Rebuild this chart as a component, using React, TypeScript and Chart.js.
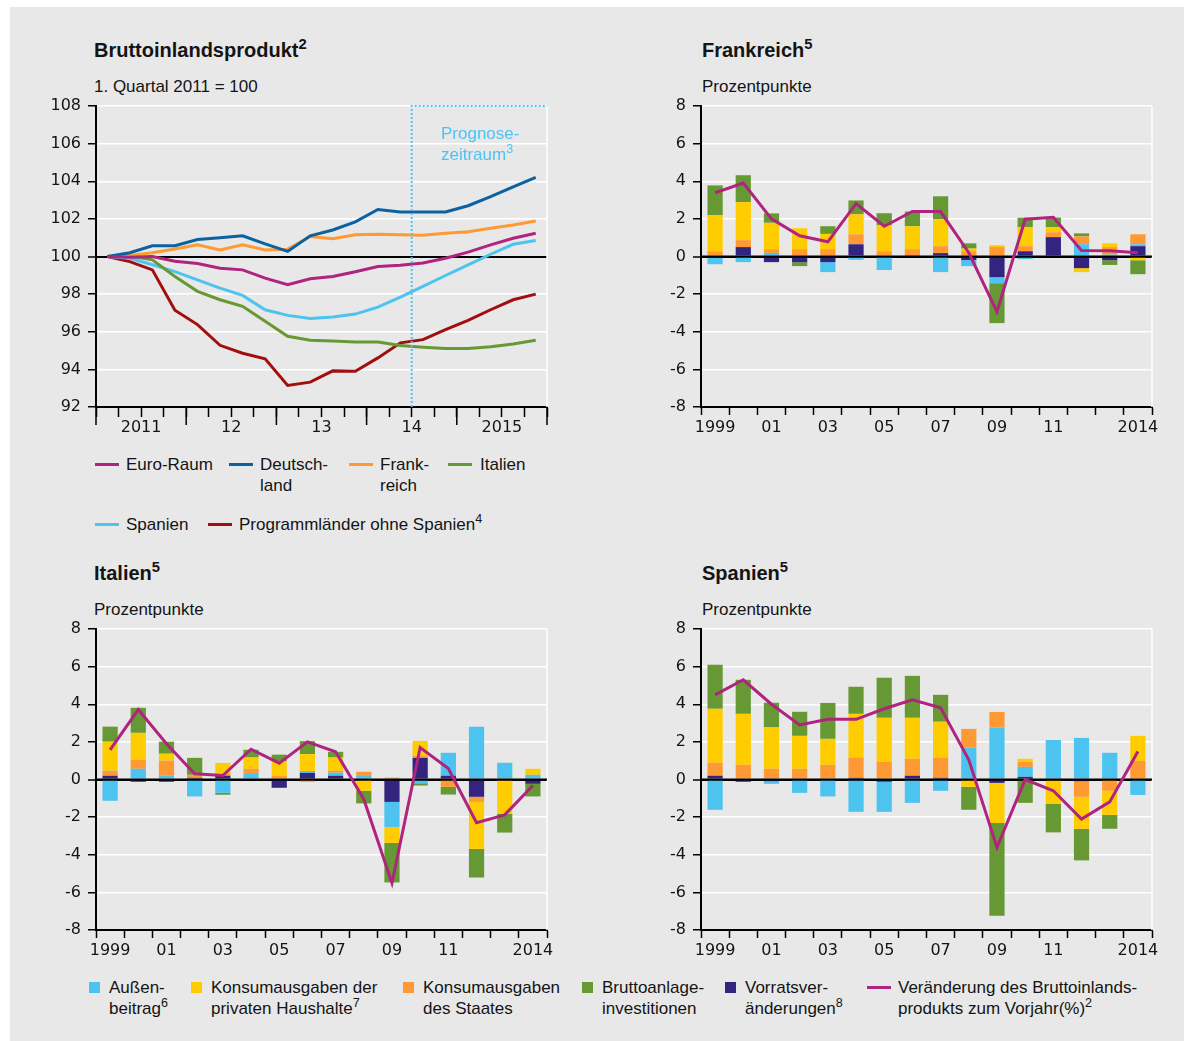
import React, { useEffect, useRef } from 'react';
import { Chart, registerables } from 'chart.js';

Chart.register(...registerables);

// ---------- DATA ----------
// Top-left: GDP index, quarters 2011Q1..2015Q4 (1. Quartal 2011 = 100)
const gdpYearLabels = ['2011', '12', '13', '14', '2015'];
const gdpSeriesNames = ['Euro-Raum', 'Deutsch-\nland', 'Frank-\nreich', 'Italien', 'Spanien', 'Programmländer ohne Spanien'];
const gdpSeriesNotes = ['', '', '', '', '', '4'];
const euroRaum = [100, 99.96, 100.0, 99.75, 99.63, 99.38, 99.29, 98.85, 98.5, 98.82, 98.94, 99.19, 99.47, 99.54, 99.65, 99.91, 100.23, 100.62, 100.97, 101.24];
const deutschland = [100, 100.2, 100.57, 100.57, 100.9, 101.0, 101.1, 100.67, 100.27, 101.1, 101.41, 101.84, 102.5, 102.37, 102.37, 102.37, 102.7, 103.18, 103.7, 104.2];
const frankreichIdx = [100, 100.05, 100.2, 100.4, 100.62, 100.35, 100.62, 100.35, 100.39, 101.06, 100.94, 101.15, 101.18, 101.15, 101.13, 101.24, 101.32, 101.5, 101.68, 101.89];
const italienIdx = [100, 100.03, 99.82, 98.94, 98.15, 97.7, 97.35, 96.56, 95.76, 95.55, 95.51, 95.46, 95.46, 95.27, 95.18, 95.11, 95.11, 95.2, 95.35, 95.55];
const spanienIdx = [100, 99.91, 99.56, 99.2, 98.76, 98.32, 97.93, 97.17, 96.87, 96.7, 96.78, 96.94, 97.31, 97.84, 98.41, 98.99, 99.56, 100.12, 100.65, 100.85];
const programmIdx = [100, 99.73, 99.29, 97.14, 96.38, 95.28, 94.86, 94.56, 93.15, 93.32, 93.92, 93.9, 94.61, 95.41, 95.58, 96.11, 96.61, 97.17, 97.7, 98.0];
const forecastStartQuarter = 14; // Prognosezeitraum begins mid-2014

// Bar charts: years 1999..2014
const years = ['1999', '2000', '2001', '2002', '2003', '2004', '2005', '2006', '2007', '2008', '2009', '2010', '2011', '2012', '2013', '2014'];
const yearTickLabels = ['1999', '', '01', '', '03', '', '05', '', '07', '', '09', '', '11', '', '', '2014'];
const componentNames = ['Außen-\nbeitrag', 'Konsumausgaben der\nprivaten Haushalte', 'Konsumausgaben\ndes Staates', 'Bruttoanlage-\ninvestitionen', 'Vorratsver-\nänderungen', 'Veränderung des Bruttoinlands-\nprodukts zum Vorjahr(%)'];
const componentNotes = ['6', '7', '', '', '8', '2'];

// Frankreich
const frVorrat = [-0.07, 0.5, -0.3, -0.3, -0.3, 0.65, 0, 0.07, 0.18, -0.19, -1.1, 0.28, 1.03, -0.62, -0.2, 0.55];
const frAussen = [-0.34, -0.3, 0.19, 0, -0.53, -0.18, -0.72, 0, -0.83, -0.32, -0.32, -0.14, 0, 0.65, 0.1, 0.1];
const frStaat = [0.28, 0.37, 0.2, 0.39, 0.39, 0.53, 0.28, 0.32, 0.37, 0.28, 0.5, 0.27, 0.26, 0.42, 0.4, 0.53];
const frPrivat = [1.91, 2.02, 1.4, 1.11, 0.81, 1.06, 1.38, 1.22, 1.43, 0.14, 0.1, 1.0, 0.27, -0.21, 0.2, -0.2];
const frBrutto = [1.59, 1.43, 0.5, -0.21, 0.41, 0.74, 0.64, 0.78, 1.22, 0.28, -2.12, 0.51, 0.51, 0.16, -0.25, -0.74];
const frBip = [3.39, 3.9, 2.0, 1.1, 0.78, 2.81, 1.61, 2.39, 2.39, 0.2, -2.93, 1.98, 2.09, 0.32, 0.3, 0.2];

// Italien
const itVorrat = [0.2, -0.12, -0.12, 0.09, 0.2, 0, -0.44, 0.35, 0.2, 0, -1.19, 1.15, 0.2, -0.92, 0, -0.23];
const itAussen = [-1.13, 0.57, 0.2, -0.9, -0.71, 0.34, 0, 0.1, 0.16, 0.23, -1.33, -0.2, 1.22, 2.8, 0.89, 0.25];
const itStaat = [0.27, 0.48, 0.8, 0.16, 0.1, 0.23, 0.2, -0.12, 0.1, 0.18, 0.1, 0.1, -0.39, -0.27, -0.09, 0];
const itPrivat = [1.54, 1.43, 0.37, 0, 0.58, 0.6, 0.78, 0.9, 0.71, -0.6, -0.85, 0.8, 0, -2.5, -1.74, 0.32];
const itBrutto = [0.8, 1.33, 0.64, 0.9, -0.1, 0.41, 0.34, 0.69, 0.3, -0.67, -2.1, -0.12, -0.41, -1.52, -0.99, -0.67];
const itBip = [1.58, 3.72, 1.9, 0.3, 0.21, 1.61, 0.87, 2.0, 1.47, -1.05, -5.5, 1.7, 0.58, -2.3, -1.88, -0.32];

// Spanien
const esVorrat = [0.2, -0.12, -0.09, 0, -0.05, 0.09, -0.12, 0.2, 0.09, 0, -0.18, 0.14, 0, -0.09, 0, 0];
const esAussen = [-1.61, 0, -0.14, -0.71, -0.85, -1.72, -1.6, -1.24, -0.6, 1.7, 2.76, 0.53, 2.1, 2.21, 1.42, -0.82];
const esStaat = [0.69, 0.78, 0.57, 0.57, 0.78, 1.08, 0.94, 0.9, 1.08, 0.99, 0.83, 0.27, -0.07, -0.83, -0.6, 0.99];
const esPrivat = [2.87, 2.71, 2.2, 1.75, 1.38, 2.32, 2.34, 2.18, 1.9, -0.39, -2.13, 0.16, -1.22, -1.7, -1.28, 1.33];
const esBrutto = [2.34, 1.81, 1.31, 1.28, 1.91, 1.44, 2.13, 2.23, 1.43, -1.22, -4.93, -1.24, -1.52, -1.68, -0.74, 0];
const esBip = [4.5, 5.3, 4.0, 2.9, 3.2, 3.2, 3.76, 4.23, 3.81, 1.05, -3.61, 0.0, -0.6, -2.1, -1.19, 1.49];

// ---------- STYLE ----------
const COL = {
  lightBlue: '#4dc3f0',
  yellow: '#ffcc00',
  orange: '#ff9933',
  green: '#669933',
  navy: '#32247f',
  magenta: '#b0237f',
  deBlue: '#0b62a0',
  red: '#a00f0f',
  panel: '#e8e8e8',
  text: '#141414',
};
const gdpColors = [COL.magenta, COL.deBlue, COL.orange, COL.green, COL.lightBlue, COL.red];
const componentColors = [COL.lightBlue, COL.yellow, COL.orange, COL.green, COL.navy, COL.magenta];

const TICK_FONT = { family: '"DejaVu Sans", sans-serif', size: 16 };
const HTML_FONT = '"Liberation Sans", Arial, sans-serif';
const PAD_TOP = 24;

function ChartCanvas(props: { left: number; top: number; width: number; height: number; make: () => any }) {
  const ref = useRef<HTMLCanvasElement>(null);
  useEffect(() => {
    const chart = new Chart(ref.current as HTMLCanvasElement, props.make());
    return () => chart.destroy();
  }, []);
  return (
    <div style={{ position: 'absolute', left: props.left, top: props.top, width: props.width, height: props.height }}>
      <canvas ref={ref} width={props.width} height={props.height} style={{ display: 'block' }} />
    </div>
  );
}

function yAxis(min: number, max: number, zero: number) {
  return {
    type: 'linear',
    min,
    max,
    stacked: true,
    ticks: { stepSize: 2, padding: 7, color: COL.text, font: TICK_FONT },
    grid: {
      color: (ctx: any) => (ctx.tick && ctx.tick.value === zero ? '#000' : '#ffffff'),
      lineWidth: (ctx: any) => (ctx.tick && ctx.tick.value === zero ? 2 : 1.5),
      tickColor: '#000',
      tickLength: 8,
      tickWidth: 1.5,
      drawTicks: true,
    },
    border: { display: true, color: '#000', width: 2 },
    afterFit: (s: any) => {
      s.width = 60;
    },
  };
}

const rightEdgePlugin = {
  id: 'rightEdge',
  beforeDatasetsDraw(chart: any) {
    const { ctx, chartArea: a } = chart;
    ctx.save();
    ctx.strokeStyle = '#ffffff';
    ctx.lineWidth = 1.5;
    ctx.beginPath();
    ctx.moveTo(a.right, a.top);
    ctx.lineTo(a.right, a.bottom);
    ctx.stroke();
    ctx.restore();
  },
};

const zeroLinePlugin = {
  id: 'zeroLine',
  beforeDatasetDraw(chart: any, args: any) {
    if (args.meta.type !== 'line') return;
    const { ctx, chartArea: a } = chart;
    const y = chart.scales.y.getPixelForValue(0);
    ctx.save();
    ctx.strokeStyle = '#000';
    ctx.lineWidth = 2;
    ctx.beginPath();
    ctx.moveTo(a.left, y);
    ctx.lineTo(a.right, y);
    ctx.stroke();
    ctx.restore();
  },
};

function makeBarChart(v: number[], a: number[], s: number[], p: number[], b: number[], bip: number[]) {
  return () => {
    const comps = [
      { data: v, color: COL.navy, label: componentNames[4] },
      { data: a, color: COL.lightBlue, label: componentNames[0] },
      { data: s, color: COL.orange, label: componentNames[2] },
      { data: p, color: COL.yellow, label: componentNames[1] },
      { data: b, color: COL.green, label: componentNames[3] },
    ];
    return {
      type: 'bar',
      data: {
        labels: years,
        datasets: [
          ...comps.map((c) => ({
            type: 'bar',
            label: c.label,
            data: c.data,
            backgroundColor: c.color,
            borderWidth: 0,
            stack: 'bars',
            order: 2,
            barPercentage: 0.54,
            categoryPercentage: 1,
          })),
          {
            type: 'line',
            label: componentNames[5],
            data: bip,
            borderColor: COL.magenta,
            borderWidth: 3,
            pointRadius: 0,
            tension: 0,
            stack: 'bip',
            order: 1,
          },
        ],
      },
      options: {
        responsive: false,
        animation: false,
        devicePixelRatio: 1,
        layout: { padding: { top: PAD_TOP, right: 12, left: 0, bottom: 0 } },
        plugins: { legend: { display: false }, tooltip: { enabled: false } },
        scales: {
          x: {
            type: 'category',
            stacked: true,
            offset: true,
            grid: { offset: true, drawOnChartArea: false, drawTicks: true, tickLength: 8, tickColor: '#000', tickWidth: 1.5 },
            border: { display: true, color: '#000', width: 2 },
            ticks: {
              autoSkip: false,
              maxRotation: 0,
              minRotation: 0,
              padding: 3,
              color: COL.text,
              font: TICK_FONT,
              callback: (_v: any, i: number) => yearTickLabels[i],
            },
            afterFit: (sc: any) => {
              sc.height = 40;
            },
          },
          y: yAxis(-8, 8, 0),
        },
      },
      plugins: [rightEdgePlugin, zeroLinePlugin],
    };
  };
}

function makeGdpChart() {
  const series = [euroRaum, deutschland, frankreichIdx, italienIdx, spanienIdx, programmIdx];
  const nQuarters = euroRaum.length;
  const yearCenters = gdpYearLabels.map((_, i) => i * 4 + 2);
  const forecastPlugin = {
    id: 'forecast',
    afterDatasetsDraw(chart: any) {
      const { ctx, chartArea: a } = chart;
      const x = chart.scales.x.getPixelForValue(forecastStartQuarter);
      ctx.save();
      ctx.strokeStyle = COL.lightBlue;
      ctx.lineWidth = 2;
      ctx.setLineDash([2, 2]);
      ctx.beginPath();
      ctx.moveTo(x, a.bottom);
      ctx.lineTo(x, a.top);
      ctx.lineTo(a.right, a.top);
      ctx.stroke();
      ctx.restore();
    },
    afterDraw(chart: any) {
      // longer tick marks at year boundaries
      const { ctx, chartArea: a } = chart;
      ctx.save();
      ctx.strokeStyle = '#000';
      ctx.lineWidth = 1.5;
      for (let q = 0; q <= nQuarters; q += 4) {
        const x = chart.scales.x.getPixelForValue(q);
        ctx.beginPath();
        ctx.moveTo(x, a.bottom);
        ctx.lineTo(x, a.bottom + 18);
        ctx.stroke();
      }
      ctx.restore();
    },
  };
  return {
    type: 'line',
    data: {
      datasets: series.map((d, si) => ({
        label: gdpSeriesNames[si],
        data: d.map((y, i) => ({ x: i + 0.5, y })),
        borderColor: gdpColors[si],
        borderWidth: 3,
        pointRadius: 0,
        tension: 0,
      })),
    },
    options: {
      responsive: false,
      animation: false,
      devicePixelRatio: 1,
      layout: { padding: { top: PAD_TOP, right: 12, left: 0, bottom: 0 } },
      plugins: { legend: { display: false }, tooltip: { enabled: false } },
      scales: {
        x: {
          type: 'linear',
          min: 0,
          max: nQuarters,
          grid: { drawOnChartArea: false, drawTicks: true, tickLength: 10, tickColor: '#000', tickWidth: 1.5 },
          border: { display: true, color: '#000', width: 2 },
          ticks: {
            stepSize: 1,
            autoSkip: false,
            maxRotation: 0,
            minRotation: 0,
            padding: 1,
            color: COL.text,
            font: TICK_FONT,
            callback: (v: any) => {
              const idx = yearCenters.indexOf(Number(v));
              return idx >= 0 ? gdpYearLabels[idx] : '';
            },
          },
          afterFit: (sc: any) => {
            sc.height = 40;
          },
        },
        y: { ...yAxis(92, 108, 100), stacked: false },
      },
    },
    plugins: [rightEdgePlugin, forecastPlugin],
  };
}

// ---------- HTML text helpers ----------
function Sup({ n }: { n: string }) {
  if (!n) return null;
  return <span style={{ fontSize: '0.74em', verticalAlign: 'super', lineHeight: 0 }}>{n}</span>;
}

function T(props: { x: number; baseline: number; size?: number; bold?: boolean; color?: string; lh?: number; children: any }) {
  const size = props.size ?? 17;
  const lh = props.lh ?? 21;
  const top = props.baseline - ((lh - 1.117 * size) / 2 + 0.905 * size);
  return (
    <div
      style={{
        position: 'absolute',
        left: props.x,
        top,
        fontFamily: HTML_FONT,
        fontSize: size,
        fontWeight: props.bold ? 700 : 400,
        lineHeight: lh + 'px',
        color: props.color ?? COL.text,
        whiteSpace: 'nowrap',
      }}
    >
      {props.children}
    </div>
  );
}

function MultiLine({ text, note }: { text: string; note: string }) {
  const lines = text.split('\n');
  return (
    <>
      {lines.map((l, i) => (
        <React.Fragment key={i}>
          {l}
          {i === lines.length - 1 ? <Sup n={note} /> : null}
          {i < lines.length - 1 ? <br /> : null}
        </React.Fragment>
      ))}
    </>
  );
}

// plot rects (page coords): left, top; all plots 451 x 301
const PLOT_W = 451;
const PLOT_H = 301;
const CANVAS_W = 60 + PLOT_W + 12;
const CANVAS_H = PAD_TOP + PLOT_H + 40;

export default function App() {
  const gdpLegendPos = [
    { lx: 95, tx: 126, row: 0 },
    { lx: 229, tx: 260, row: 0 },
    { lx: 349, tx: 380, row: 0 },
    { lx: 448, tx: 480, row: 0 },
    { lx: 95, tx: 126, row: 1 },
    { lx: 208, tx: 239, row: 1 },
  ];
  const rowBase = [470, 530];
  const compLegendPos = [
    { mx: 89, tx: 109 },
    { mx: 191, tx: 211 },
    { mx: 403, tx: 423 },
    { mx: 582, tx: 602 },
    { mx: 725, tx: 745 },
    { mx: 867, tx: 898 },
  ];
  const plots = [
    { l: 96, t: 106, make: makeGdpChart },
    { l: 701, t: 106, make: makeBarChart(frVorrat, frAussen, frStaat, frPrivat, frBrutto, frBip) },
    { l: 96, t: 629, make: makeBarChart(itVorrat, itAussen, itStaat, itPrivat, itBrutto, itBip) },
    { l: 701, t: 629, make: makeBarChart(esVorrat, esAussen, esStaat, esPrivat, esBrutto, esBip) },
  ];
  return (
    <div style={{ position: 'absolute', left: 0, top: 0, width: 1184, height: 1041, background: '#fff', overflow: 'hidden' }}>
      <div style={{ position: 'absolute', left: 10, top: 7, width: 1174, height: 1034, background: COL.panel }} />

      {/* Titles */}
      <T x={94} baseline={56.5} size={20} bold lh={24}>
        Bruttoinlandsprodukt<Sup n="2" />
      </T>
      <T x={94} baseline={92.5}>1. Quartal 2011 = 100</T>
      <T x={702} baseline={56.5} size={20} bold lh={24}>
        Frankreich<Sup n="5" />
      </T>
      <T x={702} baseline={92.5}>Prozentpunkte</T>
      <T x={94} baseline={579.5} size={20} bold lh={24}>
        Italien<Sup n="5" />
      </T>
      <T x={94} baseline={615.5}>Prozentpunkte</T>
      <T x={702} baseline={579.5} size={20} bold lh={24}>
        Spanien<Sup n="5" />
      </T>
      <T x={702} baseline={615.5}>Prozentpunkte</T>

      {/* Charts */}
      {plots.map((p, i) => (
        <ChartCanvas key={i} left={p.l - 60} top={p.t - PAD_TOP} width={CANVAS_W} height={CANVAS_H} make={p.make} />
      ))}

      {/* Forecast label */}
      <T x={441} baseline={139.5} color={COL.lightBlue}>
        Prognose-
        <br />
        zeitraum<Sup n="3" />
      </T>

      {/* GDP legend */}
      {gdpSeriesNames.map((name, i) => {
        const p = gdpLegendPos[i];
        const base = rowBase[p.row];
        return (
          <React.Fragment key={name}>
            <div style={{ position: 'absolute', left: p.lx, top: base - 7.5, width: 24, height: 3, background: gdpColors[i] }} />
            <T x={p.tx} baseline={base}>
              <MultiLine text={name} note={gdpSeriesNotes[i]} />
            </T>
          </React.Fragment>
        );
      })}

      {/* Components legend */}
      {componentNames.map((name, i) => {
        const p = compLegendPos[i];
        const isLine = i === 5;
        return (
          <React.Fragment key={name}>
            {isLine ? (
              <div style={{ position: 'absolute', left: p.mx, top: 985.5, width: 24, height: 3, background: componentColors[i] }} />
            ) : (
              <div style={{ position: 'absolute', left: p.mx, top: 981.5, width: 11, height: 11, background: componentColors[i] }} />
            )}
            <T x={p.tx} baseline={993.5}>
              <MultiLine text={name} note={componentNotes[i]} />
            </T>
          </React.Fragment>
        );
      })}
    </div>
  );
}
